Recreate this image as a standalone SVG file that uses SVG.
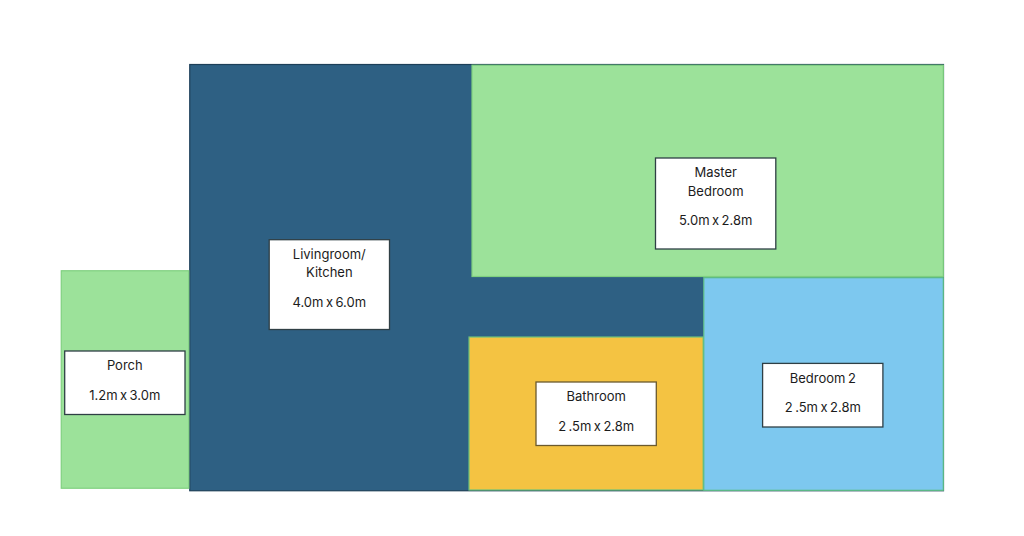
<svg xmlns="http://www.w3.org/2000/svg" width="1024" height="536" viewBox="0 0 1024 536">
<style>
.room{stroke-width:1.2}
.green{fill:#9ce29a;stroke:#7fd07f}
.label{fill:#fff;stroke:#2f3f45;stroke-width:1.3}
text{font-family:"Inter","Noto Sans","Liberation Sans",sans-serif;font-size:13px;word-spacing:-1.2px;fill:#1c1c1c;text-anchor:middle}
</style>
<rect width="1024" height="536" fill="#fff"/>
<g id="livingroom">
<rect class="room" x="189.75" y="64.5" width="753.75" height="426.25" fill="#2e6083" stroke="#1d3f58"/>
<rect class="label" x="269.2" y="239.7" width="120.3" height="89.8"/>
<text x="329.3" y="258.5">Livingroom/</text>
<text x="329.3" y="277">Kitchen</text>
<text x="329.3" y="306.5">4.0m x 6.0m</text>
</g>
<g id="porch">
<rect class="room green" x="61.25" y="270.75" width="127.5" height="217.5"/>
<rect class="label" x="64.7" y="351" width="120.3" height="63.5"/>
<text x="124.8" y="370">Porch</text>
<text x="124.8" y="399.5">1.2m x 3.0m</text>
</g>
<g id="master-bedroom">
<rect class="room green" x="472" y="65.2" width="471.3" height="211.3"/>
<rect class="label" x="655.5" y="158" width="120.3" height="91"/>
<text x="715.7" y="177">Master</text>
<text x="715.7" y="196">Bedroom</text>
<text x="715.7" y="225">5.0m x 2.8m</text>
</g>
<g id="bathroom">
<rect class="room" x="469" y="337" width="234.2" height="153" fill="#f4c342" stroke="#6cc17c"/>
<rect class="label" x="536" y="382" width="120.3" height="63.5" style="stroke:#6b5a2e"/>
<text x="596.2" y="401">Bathroom</text>
<text x="596.2" y="430.5">2 .5m x 2.8m</text>
</g>
<g id="bedroom-2">
<rect class="room" x="703.8" y="277.7" width="239.5" height="212.6" fill="#7dc8ef" stroke="#5fbf86"/>
<rect class="label" x="762.6" y="363.4" width="120.3" height="63.6"/>
<text x="822.8" y="382.5">Bedroom 2</text>
<text x="822.8" y="412">2 .5m x 2.8m</text>
</g>
<g id="connectors"></g>
</svg>
